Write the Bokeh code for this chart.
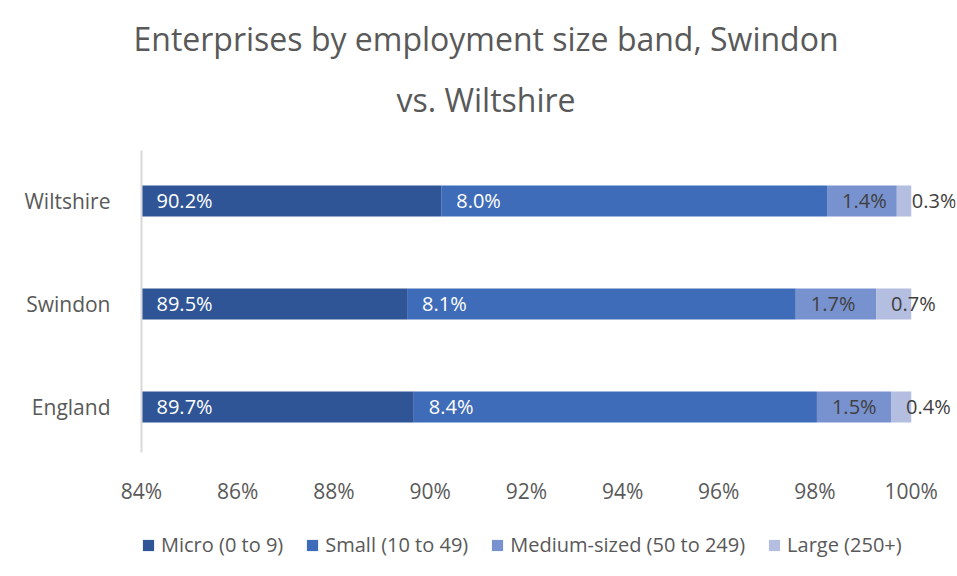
from bokeh.plotting import figure
from bokeh.layouts import column
from bokeh.models import (ColumnDataSource, Range1d, FixedTicker, LabelSet, Title,
                          Legend, LegendItem)
from bokeh.core.properties import value
from bokeh.embed import file_html
from bokeh.resources import INLINE

areas = ["England", "Swindon", "Wiltshire"]
bands = ["Micro (0 to 9)", "Small (10 to 49)", "Medium-sized (50 to 249)", "Large (250+)"]
micro = [89.66, 89.52, 90.23]
small = [8.38, 8.08, 8.02]
medium = [1.54, 1.67, 1.45]
large = [0.42, 0.73, 0.30]
micro_lbl = ["89.7%", "89.5%", "90.2%"]
small_lbl = ["8.4%", "8.1%", "8.0%"]
medium_lbl = ["1.5%", "1.7%", "1.4%"]
large_lbl = ["0.4%", "0.7%", "0.3%"]
x_ticks = [84, 86, 88, 90, 92, 94, 96, 98, 100]
x_tick_labels = ["84%", "86%", "88%", "90%", "92%", "94%", "96%", "98%", "100%"]
title_lines = ["Enterprises by employment size band, Swindon", "vs. Wiltshire"]

colors = ["#2F5597", "#3F6CB9", "#7892CF", "#B4BEE0"]
label_colors = ["#FFFFFF", "#FFFFFF", "#404040", "#404040"]
FONT = "Open Sans"
GREY = "#595959"

x0 = x_ticks[0]
p = figure(width=957, height=520, output_backend="svg", toolbar_location=None,
           x_range=Range1d(x0, 100.92), y_range=Range1d(-0.442, 2.49),
           min_border_left=141, min_border_right=2, min_border_top=150,
           min_border_bottom=68)
p.outline_line_color = None
p.xgrid.grid_line_color = None
p.ygrid.grid_line_color = None
p.background_fill_color = "white"
p.border_fill_color = "white"

ypos = list(range(len(areas)))
series = [micro, small, medium, large]
labels = [micro_lbl, small_lbl, medium_lbl, large_lbl]
sources = []
left = [0.0] * len(areas)
for i, vals in enumerate(series):
    right = [l + v for l, v in zip(left, vals)]
    lx = [max(l, x0) for l in left]
    src = ColumnDataSource(dict(y=ypos, x1=left, x2=right, lx=lx, lbl=labels[i]))
    sources.append(src)
    p.hbar(y="y", left="x1", right="x2", height=0.301, source=src,
           fill_color=colors[i], line_color=None)
    ls = LabelSet(x="lx", y="y", text="lbl", source=src, x_offset=15,
                  text_align="left", text_baseline="middle",
                  text_font=value(FONT), text_font_size=value("20px"),
                  text_color=label_colors[i])
    p.add_layout(ls)
    left = right

# axes
p.xaxis.ticker = FixedTicker(ticks=x_ticks)
p.xaxis.major_label_overrides = {t: s for t, s in zip(x_ticks, x_tick_labels)}
p.xaxis.axis_line_color = None
p.xaxis.major_tick_line_color = None
p.xaxis.minor_tick_line_color = None
p.xaxis.major_label_standoff = 18
p.xaxis.major_label_text_font = FONT
p.xaxis.major_label_text_font_size = "21px"
p.xaxis.major_label_text_color = GREY

p.yaxis.ticker = FixedTicker(ticks=ypos)
p.yaxis.major_label_overrides = {i: a for i, a in zip(ypos, areas)}
p.yaxis.axis_line_color = "#D9D9D9"
p.yaxis.axis_line_width = 2
p.yaxis.major_tick_line_color = None
p.yaxis.minor_tick_line_color = None
p.yaxis.major_label_standoff = 25
p.yaxis.major_label_text_font = FONT
p.yaxis.major_label_text_font_size = "21px"
p.yaxis.major_label_text_color = GREY

# title lines: first added sits closest to the plot
p.add_layout(Title(text=title_lines[1], align="left", offset=255, standoff=59,
                   text_font=FONT, text_font_size="32px", text_font_style="normal",
                   text_color=GREY), "above")
p.add_layout(Title(text=title_lines[0], align="left", offset=-8, standoff=-26,
                   text_font=FONT, text_font_size="32px", text_font_style="normal",
                   text_color=GREY), "above")

# legend strip (same bars, kept outside this strip's visible range; only the legend shows)
lg = figure(width=957, height=56, output_backend="svg", toolbar_location=None,
            x_axis_type=None, y_axis_type=None, x_range=Range1d(x0, 100.92),
            y_range=Range1d(10, 11), min_border=0)
lg.outline_line_color = None
lg.xgrid.grid_line_color = None
lg.ygrid.grid_line_color = None
lg_renderers = [lg.hbar(y="y", left="x1", right="x2", height=0.301, source=s,
                        fill_color=c, line_color=None)
                for s, c in zip(sources, colors)]
legend = Legend(items=[LegendItem(label=b, renderers=[r]) for b, r in zip(bands, lg_renderers)],
                orientation="horizontal", location=(0, 18),
                glyph_width=14, glyph_height=14, label_standoff=6, spacing=22,
                padding=0, margin=0, border_line_color=None, background_fill_alpha=0,
                label_text_font=FONT, label_text_font_size="20px", label_text_color=GREY)
lg.add_layout(legend, "center")

layout = column(p, lg, spacing=0)
open("out.html", "w").write(file_html(layout, INLINE))
